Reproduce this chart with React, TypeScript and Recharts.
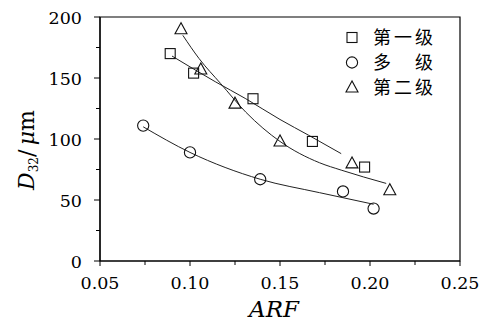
import {
  ComposedChart,
  Line,
  Scatter,
  XAxis,
  YAxis,
  ReferenceArea,
  Legend,
} from "recharts";

// measured points
const STAGE1_X = [0.089, 0.102, 0.135, 0.168, 0.197];
const STAGE1_Y = [170, 154, 133, 98, 77];
const MULTI_X = [0.074, 0.1, 0.139, 0.185, 0.202];
const MULTI_Y = [111, 89, 67, 57, 43];
const STAGE2_X = [0.095, 0.106, 0.125, 0.15, 0.19, 0.211];
const STAGE2_Y = [190, 157, 129, 98, 80, 58];

// fitted curves
const STAGE1_FIT_X = [0.09, 0.114, 0.131, 0.15, 0.166, 0.184];
const STAGE1_FIT_Y = [168, 147, 133, 116, 103, 88];
const MULTI_FIT_X = [0.074, 0.1, 0.139, 0.172, 0.202];
const MULTI_FIT_Y = [110, 89, 67, 56, 46.5];
const STAGE2_FIT_X = [0.096, 0.105, 0.117, 0.131, 0.15, 0.172, 0.184, 0.209];
const STAGE2_FIT_Y = [185, 166, 145.5, 122, 98, 80.5, 74.5, 63.6];

const X_TICKS = [0.05, 0.075, 0.1, 0.125, 0.15, 0.175, 0.2, 0.225, 0.25];
const X_LABELS = ["0.05", "", "0.10", "", "0.15", "", "0.20", "", "0.25"];
const Y_TICKS = [0, 25, 50, 75, 100, 125, 150, 175, 200];
const Y_LABELS = ["0", "", "50", "", "100", "", "150", "", "200"];

const LEGEND_NAMES = ["第一级", "多\u3000级", "第二级"];
const LEGEND_SHAPES = ["square", "circle", "triangle"];

const zip = (xs: number[], ys: number[]) => xs.map((x, i) => ({ x, y: ys[i] }));

const stage1 = zip(STAGE1_X, STAGE1_Y);
const multi = zip(MULTI_X, MULTI_Y);
const stage2 = zip(STAGE2_X, STAGE2_Y);
const stage1Fit = zip(STAGE1_FIT_X, STAGE1_FIT_Y);
const multiFit = zip(MULTI_FIT_X, MULTI_FIT_Y);
const stage2Fit = zip(STAGE2_FIT_X, STAGE2_FIT_Y);

// Liberation Serif is not picked up in the sandbox, DejaVu Serif is
const SERIF = "DejaVu Serif";
const INK = "#111";

function Marker({ kind, cx, cy }: { kind: string; cx: number; cy: number }) {
  if (kind === "square")
    return <rect x={cx - 5} y={cy - 5} width={10} height={10} fill="none" stroke={INK} strokeWidth={1.1} />;
  if (kind === "circle")
    return <circle cx={cx} cy={cy} r={5.6} fill="none" stroke={INK} strokeWidth={1.1} />;
  return (
    <polygon
      points={`${cx},${cy - 6.5} ${cx - 6},${cy + 4.5} ${cx + 6},${cy + 4.5}`}
      fill="none"
      stroke={INK}
      strokeWidth={1.1}
    />
  );
}

const shapeOf = (kind: string) => (p: any) => <Marker kind={kind} cx={p.cx} cy={p.cy} />;

function findIndex(ticks: number[], v: number) {
  return ticks.findIndex((t) => Math.abs(t - v) < 1e-9);
}

function XTick(props: any) {
  const { x, y, payload } = props;
  const label = X_LABELS[findIndex(X_TICKS, payload.value)];
  return (
    <g>
      <line x1={x} x2={x} y1={y} y2={y + (label ? 5 : 4)} stroke="#000" />
      {label && (
        <text x={x} y={y + 27.5} textAnchor="middle" fontFamily={SERIF} fontSize={17.5} fill="#000">
          {label}
        </text>
      )}
    </g>
  );
}

function YTick(props: any) {
  const { x, y, payload } = props;
  const label = Y_LABELS[findIndex(Y_TICKS, payload.value)];
  return (
    <g>
      <line x1={x - (label ? 6 : 4)} x2={x} y1={y} y2={y} stroke="#000" />
      {label && (
        <text x={x - 18} y={y + 6.5} textAnchor="end" fontFamily={SERIF} fontSize={17.5} fill="#000">
          {label}
        </text>
      )}
    </g>
  );
}

function renderLegend() {
  return (
    <div style={{ fontFamily: '"Noto Sans CJK SC", sans-serif', fontSize: 18, color: "#000" }}>
      {LEGEND_NAMES.map((name, i) => (
        <div key={name} style={{ display: "flex", alignItems: "center", height: 25 }}>
          <svg width={24} height={16} style={{ marginRight: 9 }}>
            <Marker kind={LEGEND_SHAPES[i]} cx={12} cy={8.5} />
          </svg>
          <span style={{ lineHeight: "25px", letterSpacing: 3 }}>{name}</span>
        </div>
      ))}
    </div>
  );
}

export default function App() {
  return (
    <div style={{ position: "absolute", left: 0, top: 0, width: 483, height: 322, background: "#fff" }}>
      <ComposedChart width={483} height={322} margin={{ top: 17, right: 23, bottom: 31, left: 40 }}>
        <XAxis
          type="number"
          dataKey="x"
          domain={[0.05, 0.25]}
          ticks={X_TICKS}
          interval={0}
          allowDataOverflow
          height={30}
          tickLine={false}
          tickSize={0}
          tickMargin={0}
          tick={XTick}
          axisLine={{ stroke: "#000", strokeWidth: 1.2 }}
          label={{
            content: () => (
              <text x={274} y={317} textAnchor="middle" fontFamily={SERIF} fontStyle="italic" fontSize={23} fill="#000">
                ARF
              </text>
            ),
          }}
        />
        <YAxis
          type="number"
          dataKey="y"
          domain={[0, 200]}
          ticks={Y_TICKS}
          interval={0}
          allowDataOverflow
          width={60}
          tickLine={false}
          tickSize={0}
          tickMargin={0}
          tick={YTick}
          axisLine={{ stroke: "#000", strokeWidth: 1.2 }}
          label={{
            content: () => (
              <text
                x={34}
                y={150}
                transform="rotate(-90, 34, 150)"
                textAnchor="middle"
                fontFamily={SERIF}
                fontSize={22}
                fill="#000"
              >
                <tspan fontStyle="italic">D</tspan>
                <tspan fontSize={12} dy={4}>32</tspan>
                <tspan dy={-4}>{"/\u2009"}</tspan>
                <tspan fontStyle="italic">μ</tspan>
                <tspan>m</tspan>
              </text>
            ),
          }}
        />
        <ReferenceArea x1={0.05} x2={0.25} y1={0} y2={200} fill="none" stroke="#000" strokeWidth={1.2} />
        <Legend
          layout="vertical"
          align="center"
          verticalAlign="middle"
          content={renderLegend}
          wrapperStyle={{ left: 340, top: 24, width: 130 }}
        />
        <Line data={stage1Fit} dataKey="y" type="monotone" stroke="#222" strokeWidth={1} dot={false} legendType="none" isAnimationActive={false} />
        <Line data={multiFit} dataKey="y" type="monotone" stroke="#222" strokeWidth={1} dot={false} legendType="none" isAnimationActive={false} />
        <Line data={stage2Fit} dataKey="y" type="monotone" stroke="#222" strokeWidth={1} dot={false} legendType="none" isAnimationActive={false} />
        <Scatter name="第一级" data={stage1} shape={shapeOf("square")} isAnimationActive={false} />
        <Scatter name="多级" data={multi} shape={shapeOf("circle")} isAnimationActive={false} />
        <Scatter name="第二级" data={stage2} shape={shapeOf("triangle")} isAnimationActive={false} />
      </ComposedChart>
    </div>
  );
}
